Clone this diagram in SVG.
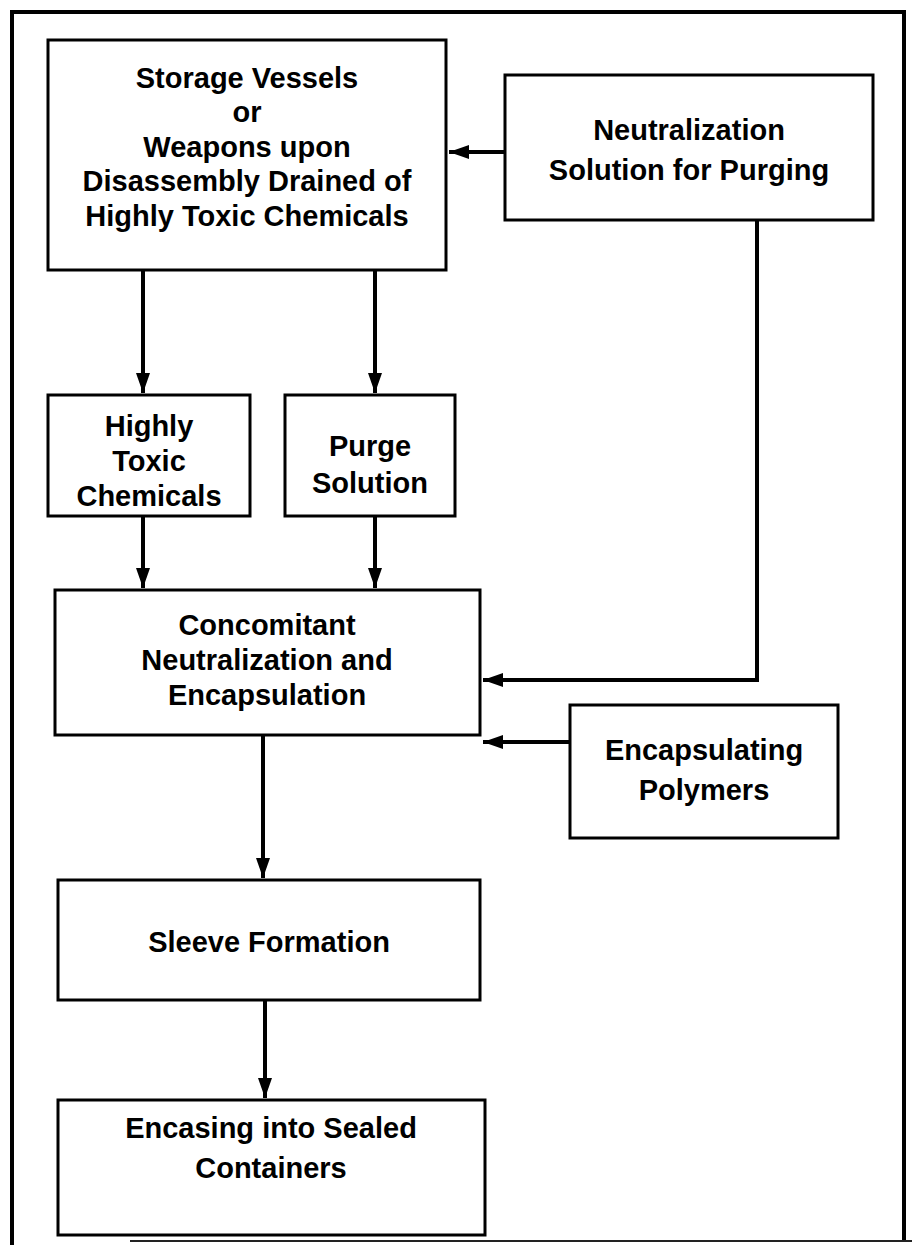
<svg xmlns="http://www.w3.org/2000/svg" width="912" height="1245" viewBox="0 0 912 1245">
<defs>
<style>
.box{fill:#fff;stroke:#000;stroke-width:3}
.t{font-family:"Liberation Sans",Arial,sans-serif;font-weight:bold;font-size:29px;text-anchor:middle;fill:#000}
.c{fill:none;stroke:#000;stroke-width:4}
.frame{fill:none;stroke:#000;stroke-width:4}
</style>
<marker id="a" viewBox="0 0 20 14" refX="20" refY="7" markerWidth="20" markerHeight="14" markerUnits="userSpaceOnUse" orient="auto">
<path d="M0,0 L20,7 L0,14 Z" fill="#000"/>
</marker>
</defs>
<rect width="912" height="1245" fill="#fff"/>
<g id="frame">
<path class="frame" d="M12,1245 V12 H904 V1240"/>
<line x1="130" y1="1241" x2="912" y2="1241" stroke="#222" stroke-width="2"/>
</g>
<g id="connectors">
<line class="c" x1="505" y1="152" x2="449" y2="152" marker-end="url(#a)"/>
<line class="c" x1="143" y1="270" x2="143" y2="393" marker-end="url(#a)"/>
<line class="c" x1="375" y1="270" x2="375" y2="393" marker-end="url(#a)"/>
<line class="c" x1="143" y1="516" x2="143" y2="588" marker-end="url(#a)"/>
<line class="c" x1="375" y1="516" x2="375" y2="588" marker-end="url(#a)"/>
<polyline class="c" points="757,220 757,680 483,680" marker-end="url(#a)"/>
<line class="c" x1="570" y1="742" x2="483" y2="742" marker-end="url(#a)"/>
<line class="c" x1="263" y1="735" x2="263" y2="878" marker-end="url(#a)"/>
<line class="c" x1="265" y1="1000" x2="265" y2="1098" marker-end="url(#a)"/>
</g>
<g id="storage">
<rect class="box" x="48" y="40" width="398" height="230"/>
<text class="t" x="247" y="88">Storage Vessels</text>
<text class="t" x="247" y="122">or</text>
<text class="t" x="247" y="157">Weapons upon</text>
<text class="t" x="247" y="191">Disassembly Drained of</text>
<text class="t" x="247" y="226">Highly Toxic Chemicals</text>
</g>
<g id="neutralization">
<rect class="box" x="505" y="75" width="368" height="145"/>
<text class="t" x="689" y="140">Neutralization</text>
<text class="t" x="689" y="180">Solution for Purging</text>
</g>
<g id="highly">
<rect class="box" x="48" y="395" width="202" height="121"/>
<text class="t" x="149" y="436">Highly</text>
<text class="t" x="149" y="471">Toxic</text>
<text class="t" x="149" y="506">Chemicals</text>
</g>
<g id="purge">
<rect class="box" x="285" y="395" width="170" height="121"/>
<text class="t" x="370" y="456">Purge</text>
<text class="t" x="370" y="493">Solution</text>
</g>
<g id="concomitant">
<rect class="box" x="55" y="590" width="425" height="145"/>
<text class="t" x="267" y="635">Concomitant</text>
<text class="t" x="267" y="670">Neutralization and</text>
<text class="t" x="267" y="705">Encapsulation</text>
</g>
<g id="polymers">
<rect class="box" x="570" y="705" width="268" height="133"/>
<text class="t" x="704" y="760">Encapsulating</text>
<text class="t" x="704" y="800">Polymers</text>
</g>
<g id="sleeve">
<rect class="box" x="58" y="880" width="422" height="120"/>
<text class="t" x="269" y="952">Sleeve Formation</text>
</g>
<g id="encasing">
<rect class="box" x="58" y="1100" width="427" height="135"/>
<text class="t" x="271" y="1138">Encasing into Sealed</text>
<text class="t" x="271" y="1178">Containers</text>
</g>
</svg>
